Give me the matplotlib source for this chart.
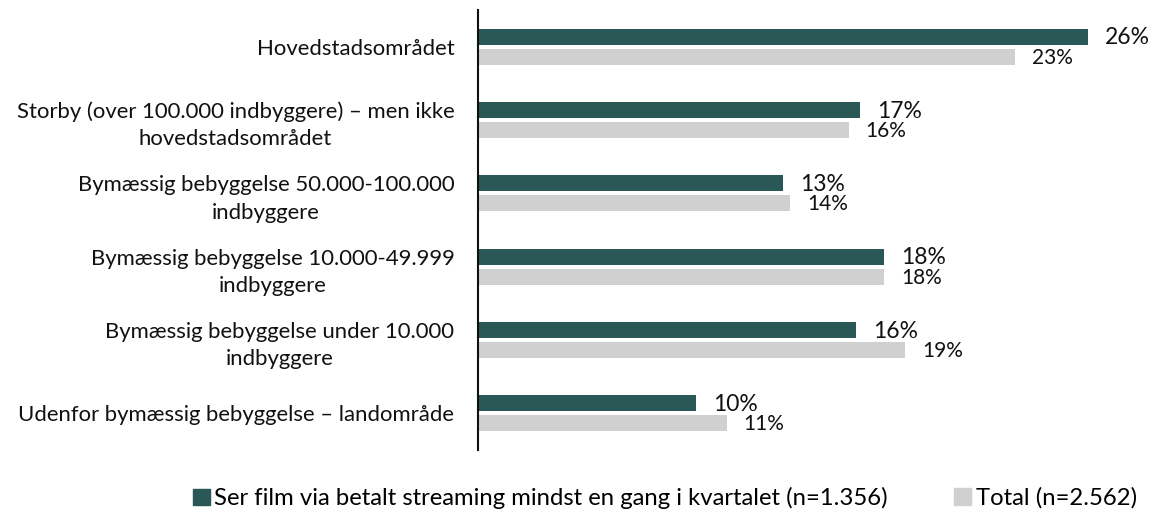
import matplotlib as mpl
mpl.use("Agg")
import matplotlib.pyplot as plt
from matplotlib.patches import Patch

categories = [
    "Hovedstadsområdet",
    "Storby (over 100.000 indbyggere) – men ikke\nhovedstadsområdet",
    "Bymæssig bebyggelse 50.000-100.000\nindbyggere",
    "Bymæssig bebyggelse 10.000-49.999\nindbyggere",
    "Bymæssig bebyggelse under 10.000\nindbyggere",
    "Udenfor bymæssig bebyggelse – landområde",
]
# bar lengths as drawn in the picture, and the printed labels
streaming = [26.0, 16.3, 13.0, 17.3, 16.1, 9.3]
total = [22.9, 15.8, 13.3, 17.3, 18.2, 10.6]
streaming_labels = ["26%", "17%", "13%", "18%", "16%", "10%"]
total_labels = ["23%", "16%", "14%", "18%", "19%", "11%"]
series_labels = [
    "Ser film via betalt streaming mindst en gang i kvartalet (n=1.356)",
    "Total (n=2.562)",
]

green = "#2a5856"
grey = "#d0d0d0"
txt = "#111111"

plt.rcParams["font.family"] = ["Lato", "DejaVu Sans"]

fig = plt.figure(figsize=(11.54, 5.12), dpi=100)
ax = fig.add_axes([478 / 1154, 62 / 512, 676 / 1154, 440 / 512])

ypos = list(range(len(categories)))
h = 0.218
off = 0.136
ax.barh([y - off for y in ypos], streaming, height=h, color=green)
ax.barh([y + off for y in ypos], total, height=h, color=grey)

for y, v, lab in zip(ypos, streaming, streaming_labels):
    ax.annotate(lab, (v, y - off), xytext=(17, -1), textcoords="offset pixels",
                va="center", ha="left", fontsize=16.5, color=txt)
for y, v, lab in zip(ypos, total, total_labels):
    ax.annotate(lab, (v, y + off), xytext=(17, -1), textcoords="offset pixels",
                va="center", ha="left", fontsize=15, color=txt)

ax.set_xlim(0, 676 / 23.46)
ax.set_ylim(len(categories) - 0.5, -0.5)
ax.set_yticks(ypos)
ax.set_yticklabels(categories, fontsize=15.9, ha="right", multialignment="center",
                   color=txt, linespacing=1.45)
ax.tick_params(axis="y", length=0, pad=17)
ax.set_xticks([])
for s in ["top", "right", "bottom"]:
    ax.spines[s].set_visible(False)
ax.spines["left"].set_linewidth(1.5)
ax.spines["left"].set_color(txt)

leg_kw = dict(loc="center left", frameon=False, fontsize=17.2, handlelength=0.7,
              handleheight=0.7, handletextpad=0.2, borderpad=0, borderaxespad=0)
fig.legend([Patch(color=green)], [series_labels[0]], bbox_to_anchor=(193 / 1154, 0.027), **leg_kw)
fig.legend([Patch(color=grey)], [series_labels[1]], bbox_to_anchor=(954 / 1154, 0.027), **leg_kw)

plt.savefig("out.png", dpi=100)
